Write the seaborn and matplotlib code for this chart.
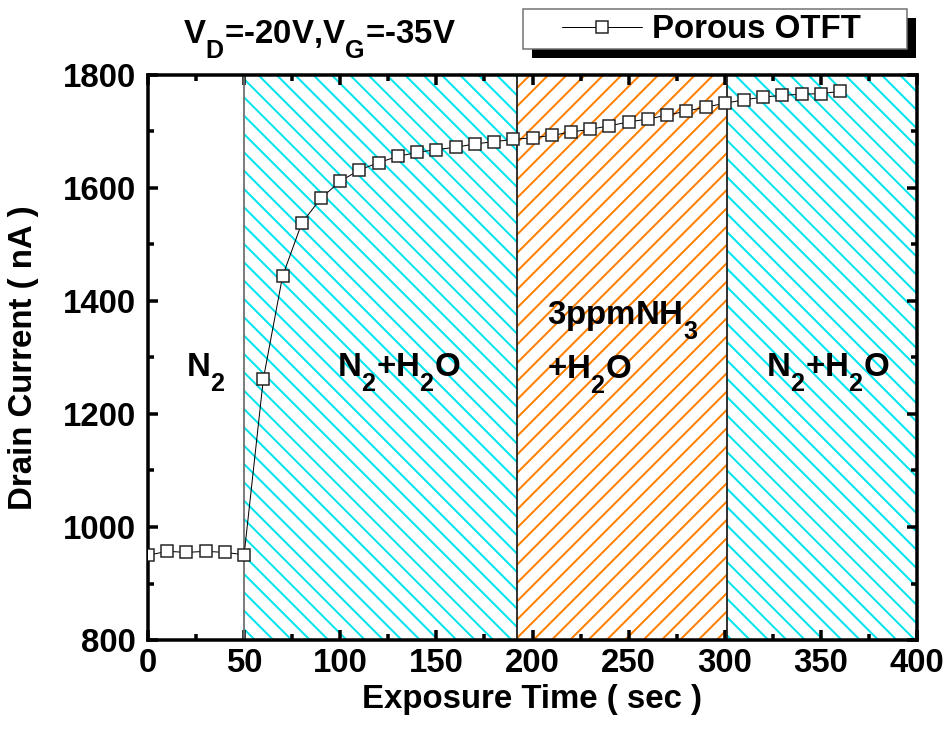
import matplotlib
matplotlib.use("Agg")
import matplotlib.pyplot as plt
from matplotlib.patches import Rectangle
from matplotlib.ticker import MultipleLocator
import pandas as pd
import seaborn as sns

# Drain current of the porous OTFT versus exposure time
time_s = [0, 10, 20, 30, 40, 50, 60, 70, 80, 90, 100, 110, 120, 130, 140, 150,
          160, 170, 180, 190, 200, 210, 220, 230, 240, 250, 260, 270, 280, 290,
          300, 310, 320, 330, 340, 350, 360]
current_nA = [950, 957, 955, 957, 955, 951, 1262, 1444, 1538, 1582, 1612, 1632,
              1645, 1656, 1663, 1668, 1672, 1678, 1682, 1686, 1689, 1693, 1699,
              1704, 1710, 1717, 1722, 1729, 1736, 1743, 1750, 1756, 1761, 1764,
              1766, 1767, 1771]

# Gas atmosphere phases
phase_start = [50, 192, 301]
phase_end = [192, 301, 400]
phase_color = ["#00E5EE", "#FF8000", "#00E5EE"]
phase_hatch = ["\\\\", "//", "\\\\"]
boundary_x = [50, 192, 301]
boundary_color = ["#707070", "#202020", "#202020"]

x_ticks = [0, 50, 100, 150, 200, 250, 300, 350, 400]
y_ticks = [800, 1000, 1200, 1400, 1600, 1800]

DPI = 110


def px(v):
    """Pixels to points at the figure resolution."""
    return v * 72.0 / DPI


# larger, lower subscripts in the chemical formulas and bias labels
try:
    import matplotlib._mathtext as _mt
    _mt.SHRINK_FACTOR = 0.76
    _mt.FontConstantsBase.sub1 = 0.85
except Exception:
    pass

sns.set_theme(style="ticks")
plt.rcParams.update({
    "font.family": ["Liberation Sans", "DejaVu Sans"],
    "font.weight": "bold",
    "axes.labelweight": "bold",
    "text.color": "black",
    "axes.labelcolor": "black",
    "mathtext.fontset": "custom",
    "mathtext.rm": "Liberation Sans:bold",
    "mathtext.it": "Liberation Sans:bold",
    "mathtext.bf": "Liberation Sans:bold",
    "mathtext.default": "rm",
    "hatch.linewidth": px(2.0),
    "axes.linewidth": px(3.5),
    "axes.edgecolor": "black",
    "xtick.direction": "in",
    "ytick.direction": "in",
    "xtick.top": True,
    "ytick.right": True,
    "xtick.color": "black",
    "ytick.color": "black",
    "xtick.labelcolor": "black",
    "ytick.labelcolor": "black",
})

FS = px(33)

fig = plt.figure(figsize=(950 / DPI, 740 / DPI), dpi=DPI)
ax = fig.add_axes([148 / 950, 1 - 640 / 740, (917 - 148) / 950, (640 - 75) / 740])

# hatched phase regions
for s, e, c, h in zip(phase_start, phase_end, phase_color, phase_hatch):
    ax.axvspan(s, e, facecolor="none", edgecolor=c, hatch=h, linewidth=0, zorder=0)
for bx, bc in zip(boundary_x, boundary_color):
    ax.axvline(bx, color=bc, linewidth=px(1.8), zorder=1)

df = pd.DataFrame({"time": time_s, "current": current_nA})
sns.lineplot(data=df, x="time", y="current", ax=ax, sort=False, errorbar=None,
             color="black", linewidth=px(1.0), marker="s", markersize=px(11.5),
             markerfacecolor="white", markeredgecolor="#222222",
             markeredgewidth=px(1.5), label="Porous OTFT", zorder=3)
if ax.get_legend() is not None:
    ax.get_legend().remove()
line = ax.get_lines()[-1]

ax.set_xlim(0, 400)
ax.set_ylim(800, 1800)
ax.set_xticks(x_ticks)
ax.set_yticks(y_ticks)
ax.xaxis.set_minor_locator(MultipleLocator(25))
ax.yaxis.set_minor_locator(MultipleLocator(100))
ax.tick_params(which="major", length=px(10), width=px(3.5), labelsize=FS)
ax.tick_params(which="minor", length=px(6), width=px(3.5))
ax.tick_params(axis="y", which="major", pad=px(12))
ax.tick_params(axis="x", which="major", pad=px(8))
for lab in ax.get_xticklabels() + ax.get_yticklabels():
    lab.set_fontweight("bold")

ax.set_xlabel("Exposure Time ( sec )", fontsize=FS, fontweight="bold")
ax.set_ylabel("Drain Current ( nA )", fontsize=FS, fontweight="bold")
ax.xaxis.set_label_coords(0.5, -0.078)
ax.yaxis.set_label_coords(-0.142, 0.5)

# phase labels
ax.text(30, 1272, r"N$_2$", fontsize=FS, fontweight="bold", ha="center", va="center")
ax.text(130.5, 1272, r"N$_2$+H$_2$O", fontsize=FS, fontweight="bold", ha="center", va="center")
ax.text(207.5, 1365, r"3ppmNH$_3$", fontsize=FS, fontweight="bold", ha="left", va="center")
ax.text(207.5, 1269, r"+H$_2$O", fontsize=FS, fontweight="bold", ha="left", va="center")
ax.text(353.5, 1272, r"N$_2$+H$_2$O", fontsize=FS, fontweight="bold", ha="center", va="center")

# title with bias conditions
fig.text(320 / 950, 1 - 40 / 740, r"V$_D$=-20V,V$_G$=-35V", fontsize=px(33),
         fontweight="bold", ha="center", va="center")

# legend box with a solid drop shadow
frame_x0, frame_y0, frame_x1, frame_y1 = 523, 9, 907, 49
shadow = Rectangle(((frame_x0 + 9) / 950, 1 - (frame_y1 + 9) / 740),
                   (frame_x1 - frame_x0) / 950, (frame_y1 - frame_y0) / 740,
                   transform=fig.transFigure, facecolor="black", edgecolor="none",
                   zorder=3)
frame = Rectangle((frame_x0 / 950, 1 - frame_y1 / 740),
                  (frame_x1 - frame_x0) / 950, (frame_y1 - frame_y0) / 740,
                  transform=fig.transFigure, facecolor="white", edgecolor="#707070",
                  linewidth=px(1.5), zorder=4)
fig.patches.extend([shadow, frame])
fig.legend(handles=[line], labels=["Porous OTFT"], loc="center left",
           bbox_to_anchor=(562 / 950, 1 - 30 / 740), frameon=False,
           borderpad=0, borderaxespad=0, handlelength=80 / 33,
           handletextpad=10 / 33, prop={"size": FS, "weight": "bold"})

fig.savefig("out.png", dpi=DPI)
